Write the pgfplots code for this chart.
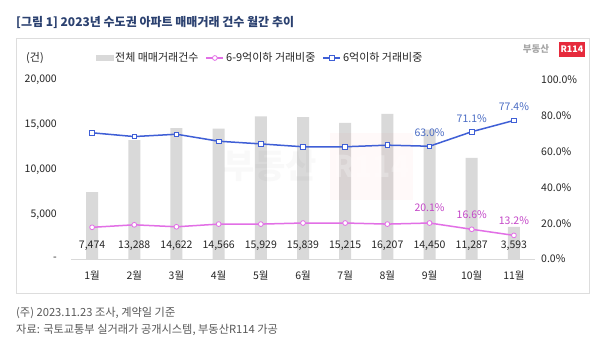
\documentclass[border=0pt]{standalone}
\usepackage{fontspec}
\setmainfont{Noto Sans CJK KR}
\usepackage{pgfplots}
\pgfplotsset{compat=1.18}
\definecolor{barc}{HTML}{D9D9D9}
\definecolor{boxc}{HTML}{DDDDDD}
\definecolor{bluec}{HTML}{3F5FD6}
\definecolor{bluelab}{HTML}{4A6CC4}
\definecolor{pinkc}{HTML}{E26FE6}
\definecolor{pinklab}{HTML}{C447C8}
\definecolor{titlec}{HTML}{2B4170}
\definecolor{footc}{HTML}{595959}
\definecolor{txtc}{HTML}{262626}
\definecolor{logor}{HTML}{E62A3C}
\newcommand{\lbl}{\fontsize{10.5}{12}\selectfont}
\begin{document}
\begin{tikzpicture}[x=1pt,y=1pt]
\useasboundingbox (0,0) rectangle (600,346);
\fill[white] (0,0) rectangle (600,346);
\draw[boxc, line width=0.8pt] (16.5,53) rectangle (589.5,308);
\node[anchor=west, font=\fontsize{12}{14}\selectfont\bfseries, text=titlec, inner sep=0] at (16,324) {[그림 1] 2023년 수도권 아파트 매매거래 건수 월간 추이};
\node[anchor=west, font=\fontsize{11.2}{13}\selectfont, text=footc, inner sep=0] at (16,33) {(주) 2023.11.23 조사, 계약일 기준};
\node[anchor=west, font=\fontsize{11.2}{13}\selectfont, text=footc, inner sep=0] at (16,16.5) {자료: 국토교통부 실거래가 공개시스템, 부동산R114 가공};
\node[font=\fontsize{11}{12}\selectfont, text=txtc, inner sep=0] at (35,288) {(건)};
% logo
\node[font=\fontsize{9.5}{11}\selectfont\bfseries, text=gray!70, inner sep=0] at (536,297) {부동산};
\fill[logor] (559,289) rectangle (585,304);
\node[font=\fontsize{9}{10}\selectfont\bfseries, text=white, inner sep=0] at (572,296.5) {R114};

\begin{axis}[at={(71pt,87pt)}, anchor=south west, scale only axis,
  width=464pt, height=179pt,
  xmin=-0.5, xmax=10.5, ymin=0, ymax=20000,
  axis x line*=bottom, axis y line*=left,
  axis line style={draw=none}, major tick length=0pt,
  scaled y ticks=false,
  xtick={0,1,2,3,4,5,6,7,8,9,10},
  xticklabels={1월,2월,3월,4월,5월,6월,7월,8월,9월,10월,11월},
  ytick={0,5000,10000,15000,20000},
  yticklabels={-,{5,000},{10,000},{15,000},{20,000}},
  xticklabel style={font=\lbl, text=txtc, anchor=center, inner sep=0pt, yshift=-17pt},
  yticklabel style={font=\lbl, text=txtc, anchor=east, inner sep=0pt, xshift=-14pt},
  clip=false]
\addplot[ybar, bar width=12pt, fill=barc, draw=none] coordinates {
 (0,7474) (1,13288) (2,14622) (3,14566) (4,15929) (5,15839)
 (6,15215) (7,16207) (8,14450) (9,11287) (10,3593)};
\draw[barc, line width=0.8pt] (axis cs:-0.5,0) -- (axis cs:10.5,0);
\node[font=\lbl, text=txtc] at (axis cs:0,1450) {7,474};
\node[font=\lbl, text=txtc] at (axis cs:1,1450) {13,288};
\node[font=\lbl, text=txtc] at (axis cs:2,1450) {14,622};
\node[font=\lbl, text=txtc] at (axis cs:3,1450) {14,566};
\node[font=\lbl, text=txtc] at (axis cs:4,1450) {15,929};
\node[font=\lbl, text=txtc] at (axis cs:5,1450) {15,839};
\node[font=\lbl, text=txtc] at (axis cs:6,1450) {15,215};
\node[font=\lbl, text=txtc] at (axis cs:7,1450) {16,207};
\node[font=\lbl, text=txtc] at (axis cs:8,1450) {14,450};
\node[font=\lbl, text=txtc] at (axis cs:9,1450) {11,287};
\node[font=\lbl, text=txtc] at (axis cs:10,1450) {3,593};
\end{axis}

% faint watermark
\node[font=\fontsize{34}{36}\selectfont\bfseries, text=black, opacity=0.025, inner sep=0] at (270,180) {부동산};
\fill[red, opacity=0.025] (330,146) rectangle (413,213);
\node[font=\fontsize{30}{32}\selectfont\bfseries, text=white, opacity=0.25, inner sep=0] at (371.5,180) {R114};

\begin{axis}[at={(71pt,87pt)}, anchor=south west, scale only axis,
  width=464pt, height=179pt,
  xmin=-0.5, xmax=10.5, ymin=0, ymax=100,
  axis x line=none, axis y line*=right,
  axis line style={draw=none}, major tick length=0pt,
  ytick={0,20,40,60,80,100},
  yticklabels={0.0\%,20.0\%,40.0\%,60.0\%,80.0\%,100.0\%},
  yticklabel style={font=\lbl, text=txtc, anchor=west, inner sep=0pt, xshift=6pt},
  clip=false,
  legend columns=3,
  legend cell align=left,
  legend style={at={(0.054,1.123)}, anchor=west, draw=none, fill=none,
    font=\fontsize{11}{12}\selectfont, text=txtc, inner sep=0pt,
    /tikz/every even column/.append style={column sep=5pt}}]
\addlegendimage{legend image code/.code={\fill[barc] (0cm,-0.09cm) rectangle (0.58cm,0.09cm);}}
\addlegendentry{전체 매매거래건수}
\addplot[color=pinkc, line width=1.5pt, mark=*, mark size=2.4pt,
  mark options={fill=white, line width=0.8pt}] coordinates {
 (0,17.7) (1,19.1) (2,18.0) (3,19.5) (4,19.5) (5,20.1)
 (6,20.1) (7,19.5) (8,20.1) (9,16.6) (10,13.2)};
\addlegendentry{6-9억이하 거래비중}
\addplot[color=bluec, line width=1.5pt, mark=square*, mark size=2.3pt,
  mark options={fill=white, line width=0.8pt}] coordinates {
 (0,70.5) (1,68.4) (2,69.7) (3,65.8) (4,64.3) (5,62.7)
 (6,62.7) (7,63.6) (8,63.0) (9,71.1) (10,77.4)};
\addlegendentry{6억이하 거래비중}
\node[font=\lbl, text=bluelab] at (axis cs:8,63.0) [yshift=13.5pt] {63.0\%};
\node[font=\lbl, text=bluelab] at (axis cs:9,71.1) [yshift=13.5pt] {71.1\%};
\node[font=\lbl, text=bluelab] at (axis cs:10,77.4) [yshift=13.5pt] {77.4\%};
\node[font=\lbl, text=pinklab] at (axis cs:8,20.1) [yshift=15pt] {20.1\%};
\node[font=\lbl, text=pinklab] at (axis cs:9,16.6) [yshift=15pt] {16.6\%};
\node[font=\lbl, text=pinklab] at (axis cs:10,13.2) [yshift=15pt] {13.2\%};
\end{axis}
\end{tikzpicture}
\end{document}
